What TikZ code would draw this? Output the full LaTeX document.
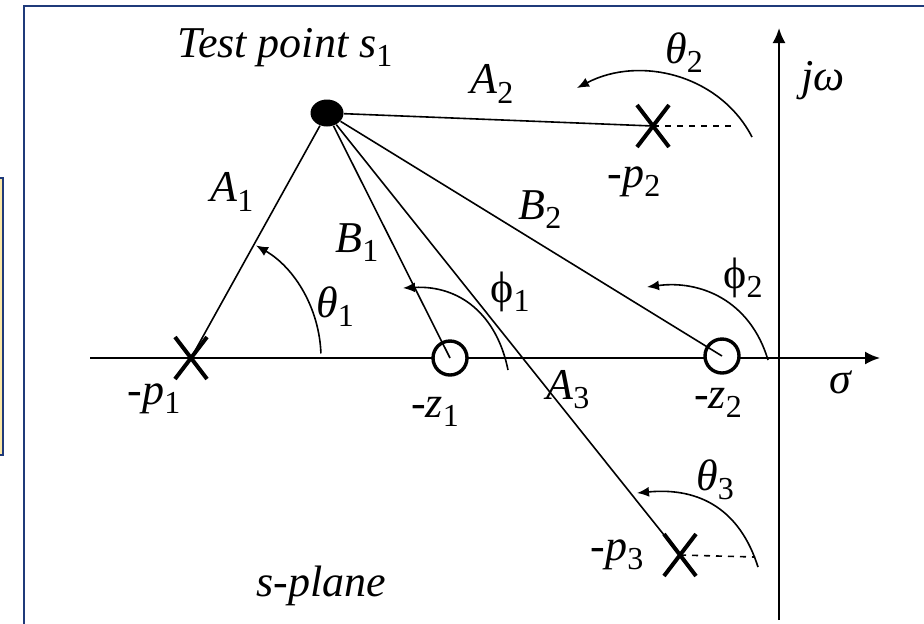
\documentclass[tikz,border=0pt]{standalone}
\usepackage{fontspec}
\setmainfont{Liberation Serif}
\usepackage{tikz}
\usetikzlibrary{arrows.meta, shapes.geometric, positioning}
\definecolor{framenavy}{HTML}{1F3A7A}
\definecolor{boxyellow}{HTML}{FCE8A6}
\newcommand{\subnum}[1]{\raisebox{-0.45ex}{\upshape\fontsize{16}{16}\selectfont #1}}
\tikzset{
	polemark/.pic={
			\draw[line width=2pt] (-16,-21) -- (16,21) (-16,21) -- (16,-21);
		}
}
\tikzset{
	zeromark/.pic={
			\draw[line width=1.7pt, fill=white] (0,0) circle[radius=17];
		}
}
\tikzset{
	lbl/.style={font=\fontsize{22}{24}\selectfont\itshape, inner sep=0pt},
	vecline/.style={line width=0.8pt},
	anglearc/.style={line width=0.8pt, -{Latex[length=6pt,width=5pt]}},
	axisline/.style={line width=1pt, -{Latex[length=7.5pt,width=6.5pt]}}
}
\begin{document}
\begin{tikzpicture}[x=0.5pt,y=0.5pt]
\useasboundingbox (0,-623) rectangle (924,0);

\draw[framenavy, line width=1pt, fill=boxyellow] (-10,-178) rectangle (3,-455);
\draw[framenavy, line width=1pt] (24,-640) -- (24,-6) -- (940,-6);

\coordinate (p1) at (191,-358);
\coordinate (p2) at (653,-126);
\coordinate (p3) at (680,-555);
\coordinate (z1) at (450,-358);
\coordinate (z2) at (722,-356);
\coordinate (reL) at (90,-358);
\coordinate (reR) at (880,-358);
\coordinate (imB) at (779,-620);
\coordinate (imT) at (779,-28);

\draw[axisline] (reL) -- (reR);
\draw[axisline] (imB) -- (imT);

\pic at (z1) {zeromark};
\pic at (z2) {zeromark};

\node (s1) [fill, ellipse, minimum width=16.5pt, minimum height=13.5pt, inner sep=0pt] at (327,-113) {};

\draw[vecline] (s1) -- (p1);
\draw[vecline] (s1) -- (z1);
\draw[vecline] (s1) -- (p3);
\draw[vecline] (s1) -- (z2);
\draw[vecline] (s1) -- (p2);

\pic at (p1) {polemark};
\pic at (p2) {polemark};
\pic at (p3) {polemark};

\coordinate (d2) at (732,-126);
\coordinate (d3) at (755,-557);
\draw[vecline, dashed] (p2) -- (d2);
\draw[vecline, dashed] (p3) -- (d3);

\draw[anglearc] ([shift={(2:130)}]p1) arc[start angle=2, end angle=60, radius=130];
\draw[anglearc] (508,-370) .. controls (497,-315) and (460,-285) .. (403,-288);
\draw[anglearc] (768,-360) .. controls (750,-300) and (700,-280) .. (647,-287);
\draw[anglearc] (752,-137) .. controls (720,-75) and (640,-55) .. (577,-88);
\draw[anglearc] (758,-567) .. controls (740,-510) and (700,-487) .. (637,-493);

\node[lbl] (tp) at (285,-48) {Test point s\subnum{1}};
\node[lbl] (la2) at (492,-84) {A\subnum{2}};
\node[lbl] (lt2) at (684,-53) {θ\subnum{2}};
\node[lbl] (ljw) at (823,-81) {jω};
\node[lbl] (lp2) at (634,-182) {{\upshape -}p\subnum{2}};
\node[lbl] (la1) at (232,-192) {A\subnum{1}};
\node[lbl] (lb1) at (357,-243) {B\subnum{1}};
\node[lbl] (lb2) at (540,-210) {B\subnum{2}};
\node[lbl] (lf1) at (510,-292) {{\upshape ϕ}\subnum{1}};
\node[lbl] (lf2) at (743,-278) {{\upshape ϕ}\subnum{2}};
\node[lbl] (lt1) at (335,-307) {θ\subnum{1}};
\node[lbl] (lp1) at (154,-399) {{\upshape -}p\subnum{1}};
\node[lbl] (lz1) at (435,-412) {{\upshape -}z\subnum{1}};
\node[lbl] (lz2) at (718,-403) {{\upshape -}z\subnum{2}};
\node[lbl] (lsg) at (840,-382) {σ};
\node[lbl] (la3) at (568,-390) {A\subnum{3}};
\node[lbl] (lt3) at (715,-480) {θ\subnum{3}};
\node[lbl] (lp3) at (617,-555) {{\upshape -}p\subnum{3}};
\node[lbl] (lsp) at (321,-586) {s-plane};

\end{tikzpicture}
\end{document}
